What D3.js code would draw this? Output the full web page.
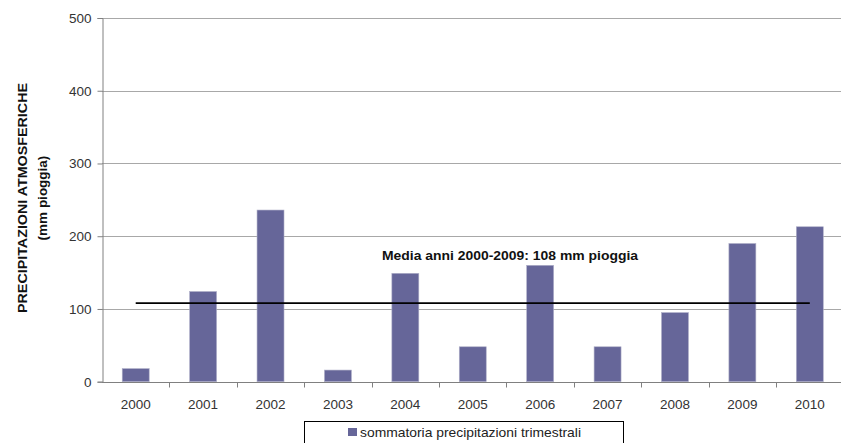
<!DOCTYPE html>
<html>
<head>
<meta charset="utf-8">
<script src="https://cdn.jsdelivr.net/npm/d3@7"></script>
<style>
  html, body { margin: 0; padding: 0; background: #fff; }
  svg { display: block; font-family: "Liberation Sans", Arial, sans-serif; }
</style>
</head>
<body>
<svg id="chart" width="841" height="443"></svg>
<script>
// Quarterly precipitation totals per year (mm)
const years = ["2000","2001","2002","2003","2004","2005","2006","2007","2008","2009","2010"];
const rainfall = [18, 124, 236, 16, 149, 48, 160, 48, 95, 190, 213];
const yTicks = [0, 100, 200, 300, 400, 500];
const meanValue = 108;
const meanLabel = "Media anni 2000-2009: 108 mm pioggia";
const yTitle = ["PRECIPITAZIONI ATMOSFERICHE", "(mm pioggia)"];
const legendLabel = "sommatoria precipitazioni trimestrali";

const svg = d3.select("#chart");
const plotLeft = 102, plotRight = 843.5, plotTop = 18, plotBottom = 381.7;

const x = d3.scaleBand().domain(years).range([plotLeft, plotRight]).paddingInner(0.6).paddingOuter(0.3);
const xb = d3.scaleBand().domain(years).range([plotLeft, plotRight]);
const y = d3.scaleLinear().domain([0, 500]).range([plotBottom, plotTop]);

// horizontal gridlines
svg.append("g").selectAll("line").data(yTicks.filter(d => d > 0)).join("line")
  .attr("x1", plotLeft).attr("x2", 841)
  .attr("y1", d => Math.round(y(d)) + 0.5).attr("y2", d => Math.round(y(d)) + 0.5)
  .attr("stroke", "#a8a8a8").attr("stroke-width", 1);

// bars
svg.append("g").selectAll("rect").data(rainfall).join("rect")
  .attr("x", (d, i) => x(years[i]))
  .attr("width", x.bandwidth())
  .attr("y", d => y(d))
  .attr("height", d => plotBottom - y(d))
  .attr("fill", "#666699")
  .attr("stroke", "#b0b0c8").attr("stroke-width", 0.6);

// y axis
const yAxis = svg.append("g").attr("transform", `translate(${plotLeft + 0.5},0)`)
  .call(d3.axisLeft(y).tickValues(yTicks).tickSize(5).tickPadding(6));
yAxis.select(".domain").attr("stroke", "#808080");
yAxis.selectAll(".tick line").attr("stroke", "#808080");
yAxis.selectAll(".tick text").attr("fill", "#333").attr("font-size", 13.5)
  .attr("font-family", "Liberation Sans, Arial, sans-serif");

// x axis with ticks on band boundaries
const xAxisG = svg.append("g").attr("transform", `translate(0,${Math.round(plotBottom) + 0.5})`);
xAxisG.append("line").attr("x1", plotLeft).attr("x2", 841).attr("stroke", "#808080");
xAxisG.selectAll("line.tk").data(years.slice(1)).join("line").attr("class", "tk")
  .attr("x1", d => Math.round(xb(d)) + 0.5).attr("x2", d => Math.round(xb(d)) + 0.5)
  .attr("y1", 0).attr("y2", 5).attr("stroke", "#808080");
xAxisG.selectAll("text").data(years).join("text")
  .attr("x", d => xb(d) + xb.bandwidth() / 2)
  .attr("y", 26)
  .attr("text-anchor", "middle")
  .attr("font-size", 13.5).attr("fill", "#333")
  .text(d => d);

// mean line
svg.append("line")
  .attr("x1", xb(years[0]) + xb.bandwidth() / 2)
  .attr("x2", xb(years[years.length - 1]) + xb.bandwidth() / 2)
  .attr("y1", y(meanValue)).attr("y2", y(meanValue))
  .attr("stroke", "#000").attr("stroke-width", 1.6);

svg.append("text")
  .attr("x", 382).attr("y", 260)
  .attr("font-size", 13.5).attr("font-weight", "bold").attr("fill", "#111")
  .attr("textLength", 256).attr("lengthAdjust", "spacingAndGlyphs")
  .text(meanLabel);

// y title
const yt = svg.append("text")
  .attr("transform", "translate(27,198) rotate(-90)")
  .attr("text-anchor", "middle")
  .attr("font-size", 13.5).attr("font-weight", "bold").attr("fill", "#111");
yt.append("tspan").attr("x", 0).attr("dy", 0).attr("textLength", 230)
  .attr("lengthAdjust", "spacingAndGlyphs").text(yTitle[0]);
yt.append("tspan").attr("x", 0).attr("dy", 20).text(yTitle[1]);

// legend
const lg = svg.append("g");
lg.append("rect").attr("x", 304.5).attr("y", 421.5).attr("width", 319).attr("height", 30)
  .attr("fill", "#fff").attr("stroke", "#000").attr("stroke-width", 1);
lg.append("rect").attr("x", 348).attr("y", 428).attr("width", 9).attr("height", 8).attr("fill", "#666699");
lg.append("text").attr("x", 360).attr("y", 437).attr("font-size", 13.5).attr("fill", "#222")
  .attr("textLength", 221).attr("lengthAdjust", "spacingAndGlyphs")
  .text(legendLabel);
</script>
</body>
</html>
